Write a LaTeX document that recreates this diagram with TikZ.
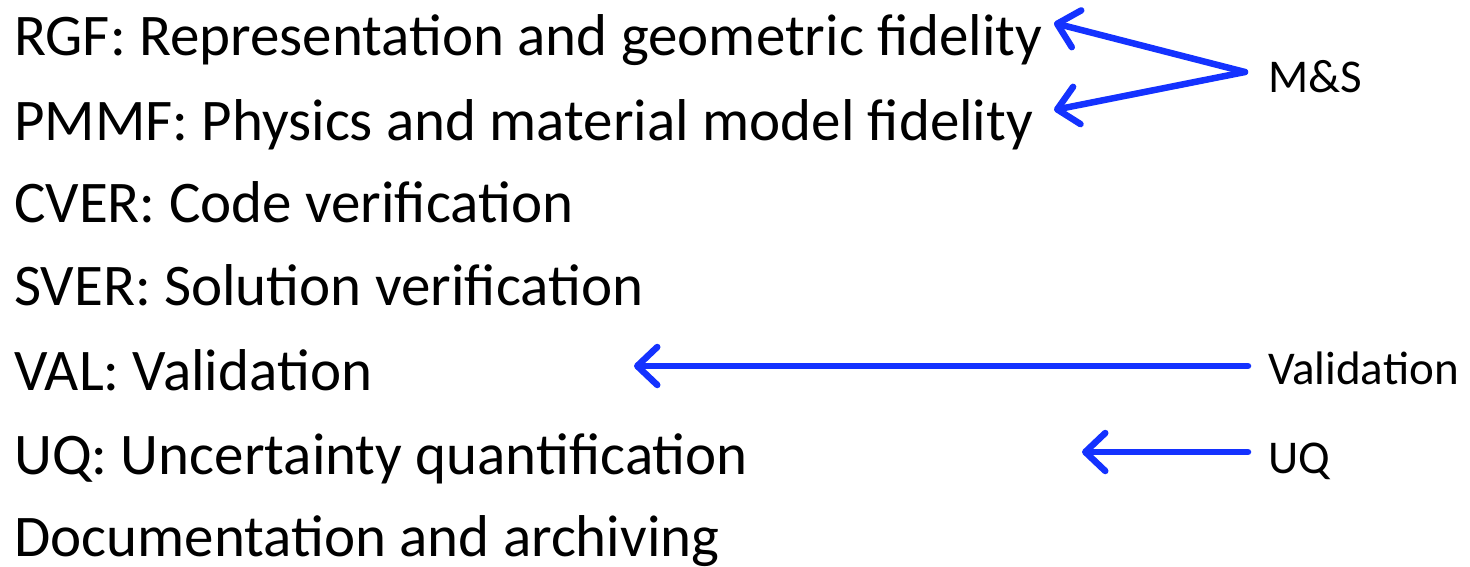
\documentclass[tikz,border=0pt]{standalone}
\usepackage{fontspec}
\setmainfont{Carlito}
\usetikzlibrary{arrows.meta}
\definecolor{arrblue}{RGB}{20,50,255}
\tikzset{
  item/.style={anchor=base west, inner sep=0pt, font=\fontsize{59}{61}\selectfont},
  lbl/.style={anchor=base west, inner sep=0pt, font=\fontsize{47}{49}\selectfont},
  conn/.style={draw=arrblue, line width=6.5pt, line cap=round, line join=round,
    -{Straight Barb[length=20pt, width=38pt, line cap=round, line join=round]}},
}
\begin{document}
\begin{tikzpicture}[x=1pt, y=-1pt]
\useasboundingbox (0,0) rectangle (1470,566);
\node[item] (rgf) at (14,55) {RGF: Representation and geometric fidelity};
\node[item] (pmmf) at (14,140) {PMMF: Physics and material model fidelity};
\node[item] (cver) at (14,222) {CVER: Code verification};
\node[item] (sver) at (14,305) {SVER: Solution verification};
\node[item] (val) at (14,390) {VAL: Validation};
\node[item] (uq) at (14,474) {UQ: Uncertainty quantification};
\node[item] (doc) at (14,556) {Documentation and archiving};
\node[lbl] (ms) at (1268,92) {M\&S};
\node[lbl] (valr) at (1268,384) {Validation};
\node[lbl] (uqr) at (1268,473) {UQ};
\coordinate (msfrom) at (1245,72);
\coordinate (rgftip) at (1054,23);
\coordinate (pmmftip) at (1054,110);
\coordinate (valfrom) at (1248,366);
\coordinate (valtip) at (634,366);
\coordinate (uqfrom) at (1248,452);
\coordinate (uqtip) at (1082,452);
\draw[conn] (msfrom) -- (rgftip);
\draw[conn] (msfrom) -- (pmmftip);
\draw[conn] (valfrom) -- (valtip);
\draw[conn] (uqfrom) -- (uqtip);
\end{tikzpicture}
\end{document}
